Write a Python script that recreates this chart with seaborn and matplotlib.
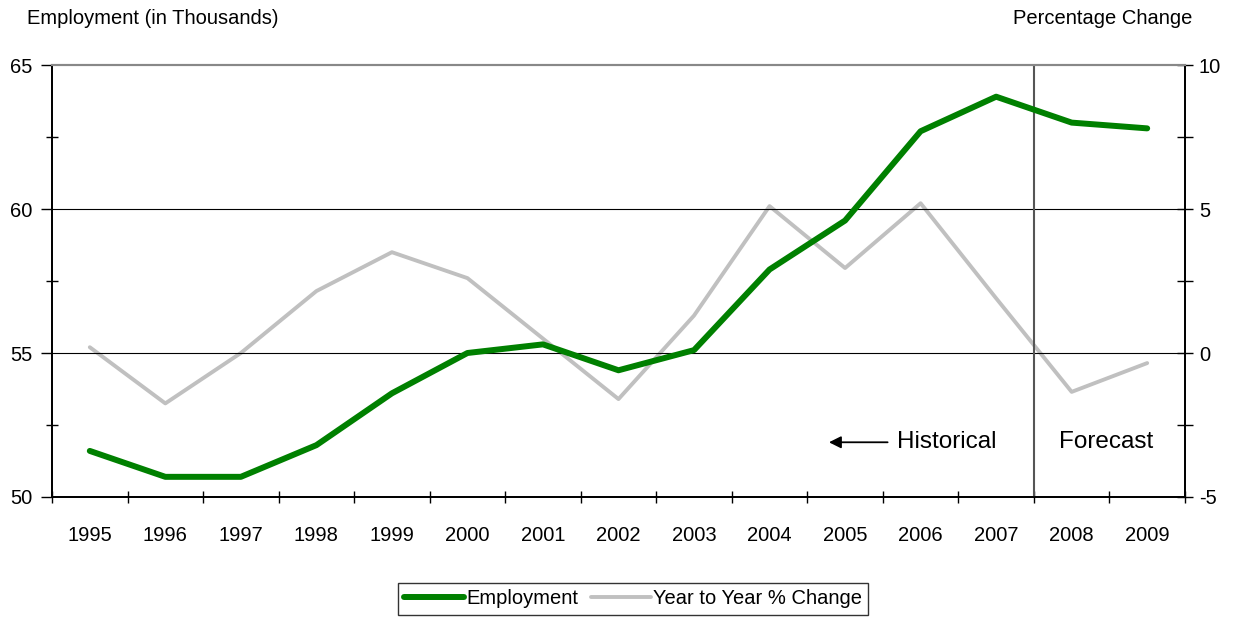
import pandas as pd
import seaborn as sns
import matplotlib.pyplot as plt
from matplotlib.ticker import MultipleLocator, FixedLocator

# data
years = ['1995', '1996', '1997', '1998', '1999', '2000', '2001', '2002',
         '2003', '2004', '2005', '2006', '2007', '2008', '2009']
employment = [51.6, 50.7, 50.7, 51.8, 53.6, 55.0, 55.3, 54.4,
              55.1, 57.9, 59.6, 62.7, 63.9, 63.0, 62.8]
pct_change = [0.2, -1.75, 0.0, 2.15, 3.5, 2.6, 0.5, -1.6,
              1.3, 5.1, 2.95, 5.2, 1.9, -1.35, -0.35]

df = pd.DataFrame({'year': years, 'employment': employment, 'pct': pct_change})
df['pos'] = range(len(df))

sns.set_style('white')
plt.rcParams['font.family'] = ['Liberation Sans Narrow', 'Liberation Sans', 'DejaVu Sans']
plt.rcParams['axes.unicode_minus'] = False
plt.rcParams['text.color'] = 'black'
plt.rcParams['xtick.color'] = 'black'
plt.rcParams['ytick.color'] = 'black'

fs = 14.5

fig = plt.figure(figsize=(12.36, 6.18), dpi=100)
ax = fig.add_axes([0.0421, 0.1958, 0.9166, 0.6990])
ax2 = ax.twinx()

# employment drawn on top of the % change line
ax.set_zorder(ax2.get_zorder() + 1)
ax.patch.set_visible(False)

sns.lineplot(x='pos', y='pct', data=df, ax=ax2, color='#c0c0c0', lw=2.8,
             label='Year to Year % Change', legend=False)
sns.lineplot(x='pos', y='employment', data=df, ax=ax, color='#008000', lw=4.3,
             label='Employment', legend=False, solid_capstyle='round')

ax.set_xlim(-0.5, len(years) - 0.5)
ax.set_ylim(50, 65)
ax2.set_ylim(-5, 10)

# gridlines
for v in [55, 60]:
    ax.axhline(v, color='black', lw=0.8, zorder=0)

# x axis: labels at the centres, tick marks between the categories
ax.set_xticks(df['pos'])
ax.set_xticklabels(years, fontsize=fs)
ax.xaxis.set_minor_locator(FixedLocator([i - 0.5 for i in range(len(years) + 1)]))
ax.tick_params(axis='x', which='major', length=0, pad=21, colors='black')
ax.tick_params(axis='x', which='minor', length=8, width=1, direction='inout', bottom=True,
               colors='black')

ax.yaxis.set_major_locator(MultipleLocator(5))
ax.yaxis.set_minor_locator(MultipleLocator(2.5))
ax.tick_params(axis='y', which='major', length=8, width=1, direction='out', left=True,
               labelsize=fs, pad=6, colors='black')
ax.tick_params(axis='y', which='minor', length=8, width=1, direction='inout', left=True,
               colors='black')

ax2.yaxis.set_major_locator(MultipleLocator(5))
ax2.yaxis.set_minor_locator(MultipleLocator(2.5))
ax2.tick_params(axis='y', which='major', length=12, width=1, direction='inout', right=True,
                labelsize=fs, pad=4, colors='black')
ax2.tick_params(axis='y', which='minor', length=12, width=1, direction='inout', right=True,
                colors='black')

ax.set_xlabel('')
ax.set_ylabel('')
ax2.set_ylabel('')

for a in (ax, ax2):
    for side in ['left', 'right', 'bottom']:
        a.spines[side].set_color('black')
        a.spines[side].set_linewidth(1.3)
    a.spines['top'].set_color('#888888')
    a.spines['top'].set_linewidth(1.5)

# historical / forecast split
ax.axvline(12.5, color='#555555', lw=1.5, zorder=1)
ax.annotate('', xy=(9.75, 51.9), xytext=(10.6, 51.9),
            arrowprops=dict(arrowstyle='-|>', color='black', lw=1.3,
                            mutation_scale=18))
ax.text(10.69, 51.9, 'Historical', fontsize=17.5, family='Liberation Sans',
        ha='left', va='center')
ax.text(13.46, 51.9, 'Forecast', fontsize=17.5, family='Liberation Sans',
        ha='center', va='center')

fig.text(27 / 1236, 1 - 18 / 618, 'Employment (in Thousands)', fontsize=fs,
         ha='left', va='center')
fig.text(1192 / 1236, 1 - 18 / 618, 'Percentage Change', fontsize=fs,
         ha='right', va='center')

h1, l1 = ax.get_legend_handles_labels()
h2, l2 = ax2.get_legend_handles_labels()
leg = fig.legend(h1 + h2, l1 + l2, loc='center', bbox_to_anchor=(633 / 1236, 1 - 599 / 618),
                 ncol=2, fontsize=fs, frameon=True, fancybox=False, handlelength=3.0,
                 handletextpad=0.1, columnspacing=0.6, borderpad=0.3)
leg.get_frame().set_edgecolor('black')
leg.get_frame().set_linewidth(1.0)

fig.savefig('out.png', dpi=100)
